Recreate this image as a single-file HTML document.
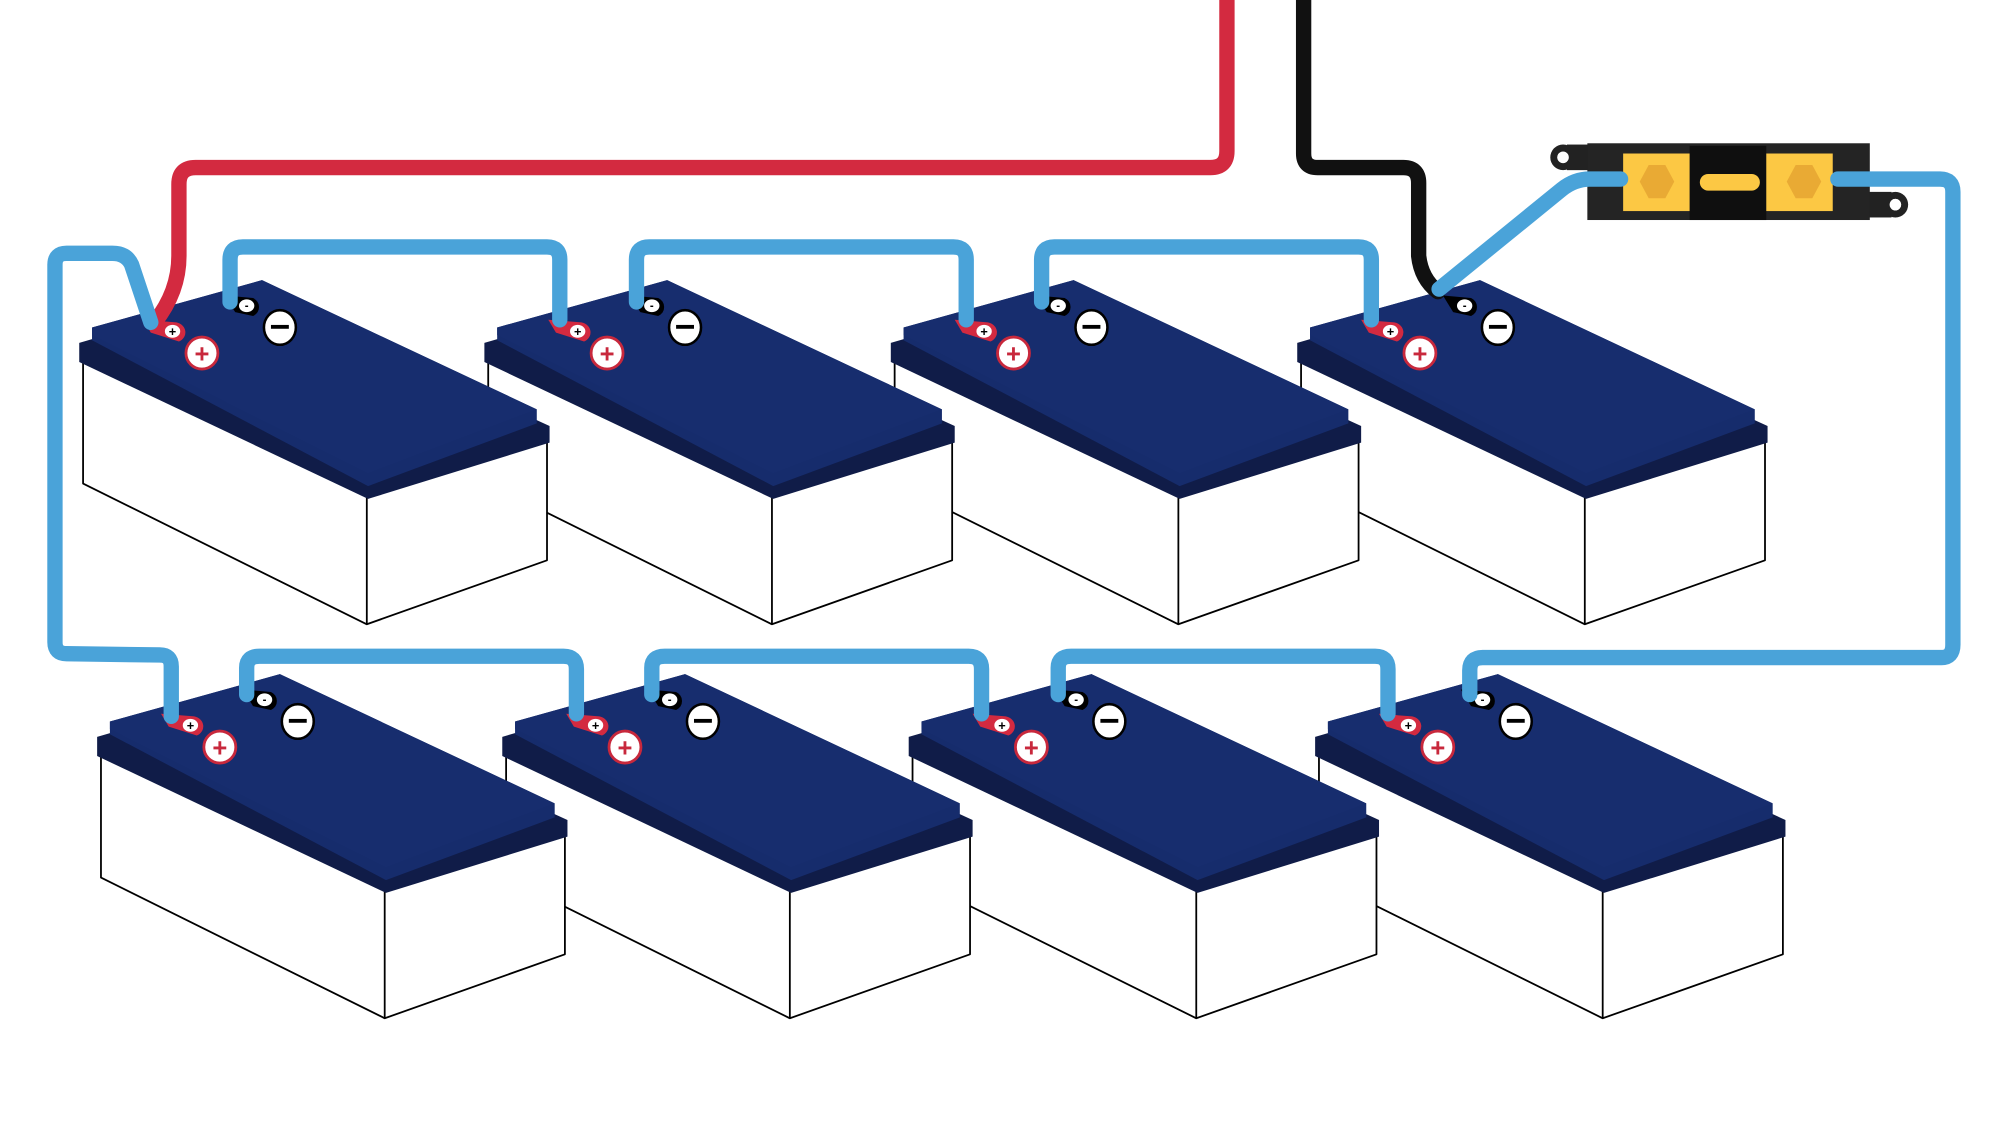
<!DOCTYPE html>
<html><head><meta charset="utf-8"><style>
html,body{margin:0;padding:0;background:#fff;}
svg{display:block;}
text{font-family:"Liberation Sans",sans-serif;font-weight:bold;}
</style></head><body>
<svg width="2004" height="1127" viewBox="0 0 1568 881" preserveAspectRatio="none" xmlns="http://www.w3.org/2000/svg">
<defs>
<g id="bat">
  <polygon points="65,280 65,378 287,488 428,438 428,342 287,388" fill="#fff" stroke="#000" stroke-width="1.4" stroke-linejoin="round"/>
  <line x1="287" y1="388" x2="287" y2="488" stroke="#000" stroke-width="1.4"/>
  <polygon points="62,268 200,228 430,333 430,346 288,390 62,283" fill="#101c48"/>
  <polygon points="72,256 205,219 420,320 420,331 288,380 72,266" fill="#162c6c"/>
  <polygon points="72,256 205,219 420,320 288,370 72,262" fill="#172d6e"/>
  <path d="M112,250 L138,252 A9,8 0 0 1 140,267 L118,260 Z" fill="#d32a40"/>
  <ellipse cx="135" cy="259" rx="6" ry="5" fill="#fff"/>
  <text x="135" y="262.5" font-size="10" text-anchor="middle" fill="#000">+</text>
  <path d="M176,231 L198,233 A9,8 0 0 1 198,247 L184,244 Z" fill="#000"/>
  <ellipse cx="193" cy="239" rx="6" ry="5" fill="#fff"/>
  <text x="193" y="242" font-size="9" text-anchor="middle" fill="#000">-</text>
  <circle cx="158" cy="276" r="12.5" fill="#fff" stroke="#c8283c" stroke-width="2.2"/>
  <text x="158" y="283.5" font-size="20" text-anchor="middle" fill="#c8283c">+</text>
  <ellipse cx="219" cy="256" rx="12.5" ry="13.5" fill="#fff" stroke="#000" stroke-width="2"/>
  <rect x="212" y="254" width="14" height="3" fill="#000"/>
</g>
</defs>

<circle cx="1223" cy="123" r="10" fill="#222"/><circle cx="1223" cy="123" r="4.5" fill="#fff"/>
<circle cx="1483" cy="160" r="10" fill="#222"/><circle cx="1483" cy="160" r="4.5" fill="#fff"/>
<rect x="1226" y="113" width="22" height="20" fill="#222"/>
<rect x="1460" y="150" width="20" height="20" fill="#222"/>
<circle cx="1223" cy="123" r="4.5" fill="#fff"/>
<circle cx="1483" cy="160" r="4.5" fill="#fff"/>
<rect x="1242" y="112" width="221" height="60" fill="#242424"/>
<rect x="1322" y="114" width="60" height="58" fill="#0f0f0f"/>
<rect x="1270" y="120" width="52" height="45" fill="#fcc844"/>
<rect x="1382" y="120" width="52" height="45" fill="#fcc844"/>
<polygon points="1283,142 1290,129 1303,129 1310,142 1303,155 1290,155" fill="#e9aa34"/>
<polygon points="1398,142 1405,129 1418,129 1425,142 1418,155 1405,155" fill="#e9aa34"/>
<rect x="1330" y="136" width="47" height="13" rx="6.5" fill="#fcc844"/>

<use href="#bat" transform="translate(967,308)"/>
<use href="#bat" transform="translate(649,308)"/>
<use href="#bat" transform="translate(331,308)"/>
<use href="#bat" transform="translate(14,308)"/>
<use href="#bat" transform="translate(953,0)"/>
<use href="#bat" transform="translate(635,0)"/>
<use href="#bat" transform="translate(317,0)"/>
<use href="#bat" transform="translate(0,0)"/>

<g fill="none" stroke-linecap="round" stroke-linejoin="round">
<path d="M960,0 V118 Q960,131 947,131 H153 Q140,131 140,144 V200 Q140,228 121,252" stroke="#d32a40" stroke-width="12"/>
<path d="M1020,0 V120 Q1020,131 1031,131 H1098 Q1110,131 1110,143 V200 Q1112,218 1125,228" stroke="#111" stroke-width="12"/>
<g stroke="#4aa3d9" stroke-width="12">
<path d="M118,252 L103,207 Q99,198 88,198 H52 Q43,198 43,207 V502 Q43,511 52,511 L125,512 Q134,512 134,521 V560"/>
<path d="M180,236 V203 Q180,193 190,193 H428 Q438,193 438,203 V250"/>
<path d="M498,236 V203 Q498,193 508,193 H746 Q756,193 756,203 V250"/>
<path d="M815,236 V203 Q815,193 825,193 H1063 Q1073,193 1073,203 V250"/>
<path d="M1126,226 L1222,148 Q1232,140 1244,140 H1268"/>
<path d="M193,543 V522 Q193,513 203,513 H441 Q451,513 451,523 V558"/>
<path d="M510,543 V522 Q510,513 520,513 H758 Q768,513 768,523 V558"/>
<path d="M828,543 V522 Q828,513 838,513 H1076 Q1086,513 1086,523 V558"/>
<path d="M1150,543 V524 Q1150,514 1160,514 H1519 Q1528,514 1528,504 V150 Q1528,140 1518,140 H1438"/>
</g>
</g>
</svg>
</body></html>
